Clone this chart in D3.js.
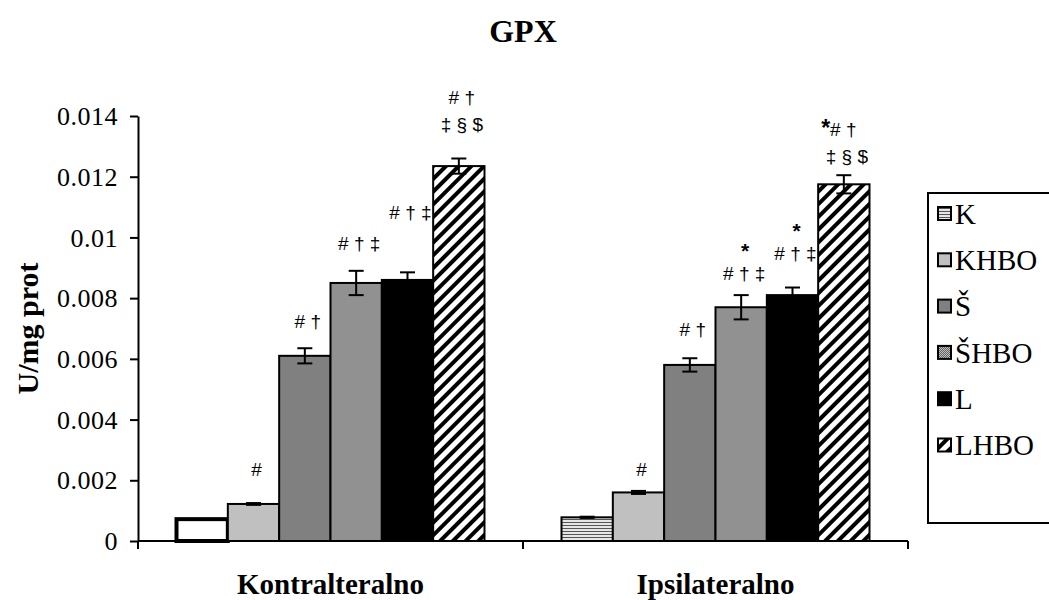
<!DOCTYPE html>
<html>
<head>
<meta charset="utf-8">
<script src="https://cdn.jsdelivr.net/npm/d3@7"></script>
<style>
  body { margin: 0; background: white; }
  svg { display: block; }
</style>
</head>
<body>
<div id="chart"></div>
<script>
const categories = ["Kontralteralno", "Ipsilateralno"];
const groups = ["K", "KHBO", "Š", "ŠHBO", "L", "LHBO"];

const kontraValues = [0.00072, 0.00122, 0.0061, 0.0085, 0.0086, 0.01235];
const kontraErrors = [0, 0.00003, 0.00025, 0.0004, 0.00025, 0.00025];
const ipsiValues = [0.00078, 0.0016, 0.0058, 0.0077, 0.0081, 0.01175];
const ipsiErrors = [0.00002, 0.00005, 0.00022, 0.0004, 0.00025, 0.0003];

// significance marks: text lines (top to bottom) and the value where the lowest line sits
const kontraMarks = [[], ["#"], ["# †"], ["# † ‡"], ["# † ‡"], ["# †", "‡ § $"]];
const kontraMarkAt = [0, 0.00214, 0.00702, 0.00958, 0.0106, 0.0135];
const ipsiMarks = [[], ["#"], ["# †"], ["*", "# † ‡"], ["*", "# † ‡"], ["*# †", "‡ § $"]];
const ipsiMarkAt = [0, 0.00214, 0.00675, 0.0086, 0.00926, 0.01245];

const yTicks = [0, 0.002, 0.004, 0.006, 0.008, 0.01, 0.012, 0.014];

const width = 1049, height = 600;
const margin = { left: 138, right: 141, top: 116, bottom: 59 };
const serif = "'Palatino Linotype', 'Book Antiqua', Palatino, 'Liberation Serif', serif";
const sans = "Arial, 'Liberation Sans', sans-serif";

const svg = d3.select("div#chart")
  .append("svg")
  .attr("width", width)
  .attr("height", height);

// fills
const defs = svg.append("defs");

const hlines = defs.append("pattern")
  .attr("id", "hlines")
  .attr("patternUnits", "userSpaceOnUse")
  .attr("width", 4).attr("height", 3);
hlines.append("rect").attr("width", 4).attr("height", 3).attr("fill", "#e6e6e6");
hlines.append("rect").attr("width", 4).attr("height", 1).attr("fill", "#555");

const checker = defs.append("pattern")
  .attr("id", "checker")
  .attr("patternUnits", "userSpaceOnUse")
  .attr("width", 2).attr("height", 2);
checker.append("rect").attr("width", 2).attr("height", 2).attr("fill", "#cccccc");
checker.append("rect").attr("width", 1).attr("height", 1).attr("fill", "#555");
checker.append("rect").attr("x", 1).attr("y", 1).attr("width", 1).attr("height", 1).attr("fill", "#555");

const diag = defs.append("pattern")
  .attr("id", "diag")
  .attr("patternUnits", "userSpaceOnUse")
  .attr("width", 9).attr("height", 9)
  .attr("patternTransform", "rotate(45)");
diag.append("rect").attr("width", 9).attr("height", 9).attr("fill", "white");
diag.append("rect").attr("width", 4).attr("height", 9).attr("fill", "black");

const fills = ["url(#hlines)", "#c0c0c0", "#808080", "url(#checker)", "black", "url(#diag)"];

// scales
const x0 = d3.scaleBand()
  .domain(categories)
  .range([margin.left, width - margin.right])
  .paddingInner(0.2)
  .paddingOuter(0.1);

const x1 = d3.scaleBand()
  .domain(groups)
  .range([0, x0.bandwidth()]);

const y = d3.scaleLinear()
  .domain([0, 0.014])
  .range([height - margin.bottom, margin.top]);

// title
svg.append("text")
  .attr("x", x0.range()[0] + (x0.range()[1] - x0.range()[0]) / 2)
  .attr("y", 42)
  .attr("text-anchor", "middle")
  .attr("font-family", serif)
  .attr("font-weight", "bold")
  .attr("font-size", 32)
  .text("GPX");

// y axis
const yAxis = svg.append("g")
  .attr("transform", `translate(${margin.left},0)`)
  .call(d3.axisLeft(y).tickValues(yTicks).tickFormat(d => d === 0 ? "0" : String(+d.toFixed(3))).tickSize(8).tickSizeOuter(0));
yAxis.select(".domain").attr("stroke-width", 2);
yAxis.selectAll(".tick line").attr("stroke-width", 2);
yAxis.selectAll("text")
  .attr("font-family", serif)
  .attr("font-size", 26)
  .attr("letter-spacing", 0.5)
  .attr("fill", "black")
  .attr("dx", -9)
  .attr("dy", "0.33em");

svg.append("text")
  .attr("transform", `translate(38,${y(0.007)}) rotate(-90)`)
  .attr("text-anchor", "middle")
  .attr("font-family", serif)
  .attr("font-weight", "bold")
  .attr("font-size", 30)
  .text("U/mg prot");

// bars
const series = [
  { cat: categories[0], values: kontraValues, errors: kontraErrors, marks: kontraMarks, at: kontraMarkAt },
  { cat: categories[1], values: ipsiValues, errors: ipsiErrors, marks: ipsiMarks, at: ipsiMarkAt }
];

series.forEach(s => {
  const g = svg.append("g").attr("transform", `translate(${x0(s.cat)},0)`);
  const rows = groups.map((name, i) => ({ name, i, v: s.values[i], e: s.errors[i], marks: s.marks[i], at: s.at[i] }));
  const hollow = d => s.cat === categories[0] && d.i === 0;

  g.selectAll("rect.bar")
    .data(rows)
    .enter()
    .append("rect")
    .attr("class", "bar")
    .attr("x", d => x1(d.name))
    .attr("y", d => y(d.v))
    .attr("width", x1.bandwidth())
    .attr("height", d => y(0) - y(d.v))
    // the first contralateral bar prints as an empty box with a heavy outline
    .attr("fill", d => hollow(d) ? "white" : fills[d.i])
    .attr("stroke", "black")
    .attr("stroke-width", d => hollow(d) ? 4 : 2);

  const cx = d => x1(d.name) + x1.bandwidth() / 2;
  const err = g.selectAll("g.err")
    .data(rows.filter(d => d.e > 0))
    .enter()
    .append("g")
    .attr("class", "err");
  err.append("line")
    .attr("x1", cx).attr("x2", cx)
    .attr("y1", d => y(d.v - d.e)).attr("y2", d => y(d.v + d.e));
  err.append("line")
    .attr("x1", d => cx(d) - 7.5).attr("x2", d => cx(d) + 7.5)
    .attr("y1", d => y(d.v + d.e)).attr("y2", d => y(d.v + d.e));
  err.append("line")
    .attr("x1", d => cx(d) - 7.5).attr("x2", d => cx(d) + 7.5)
    .attr("y1", d => y(d.v - d.e)).attr("y2", d => y(d.v - d.e));
  err.selectAll("line")
    .attr("stroke", "black")
    .attr("stroke-width", 2);

  // one text per bar, one tspan per line; a leading "*" is set bold and larger
  rows.filter(d => d.marks.length).forEach(d => {
    const n = d.marks.length;
    const t = g.append("text")
      .attr("text-anchor", "middle")
      .attr("font-family", sans)
      .attr("font-size", 19)
      .attr("xml:space", "preserve");
    d.marks.forEach((line, k) => {
      const star = line === "*";
      const ly = y(d.at) - (n - 1 - k) * (star ? 22 : 27);
      const lx = cx(d) + (star ? 4 : 3);
      if (line.startsWith("*")) {
        const head = t.append("tspan")
          .attr("x", lx).attr("y", ly)
          .attr("font-size", star ? 21 : 23)
          .attr("font-weight", "bold")
          .text("*");
        if (line.length > 1) {
          head.attr("x", lx - 8);
          t.append("tspan").text(line.slice(1));
        }
      } else {
        t.append("tspan")
          .attr("x", lx).attr("y", ly)
          .text(line);
      }
    });
  });
});

// x axis
const base = y(0);
const bounds = [x0.range()[0], x0(categories[1]) - x0.step() * x0.paddingInner() / 2, x0.range()[1]];
svg.append("line")
  .attr("x1", bounds[0]).attr("x2", bounds[2])
  .attr("y1", base).attr("y2", base)
  .attr("stroke", "black").attr("stroke-width", 2);
svg.selectAll("line.xtick")
  .data(bounds)
  .enter()
  .append("line")
  .attr("class", "xtick")
  .attr("x1", d => d).attr("x2", d => d)
  .attr("y1", base).attr("y2", base + 8)
  .attr("stroke", "black").attr("stroke-width", 2);

svg.selectAll("text.cat")
  .data(categories)
  .enter()
  .append("text")
  .attr("class", "cat")
  .attr("x", d => x0(d) + x0.bandwidth() / 2)
  .attr("y", 594)
  .attr("text-anchor", "middle")
  .attr("font-family", serif)
  .attr("font-weight", "bold")
  .attr("font-size", 29)
  .text(d => d);

// legend
const legend = svg.append("g").attr("transform", "translate(928,193)");
legend.append("rect")
  .attr("width", 140).attr("height", 330)
  .attr("fill", "white").attr("stroke", "black").attr("stroke-width", 2);
const item = legend.selectAll("g.item")
  .data(groups)
  .enter()
  .append("g")
  .attr("class", "item")
  .attr("transform", (d, i) => `translate(10,${21 + i * 46.3})`);
item.append("rect")
  .attr("x", 0).attr("y", -7)
  .attr("width", 13).attr("height", 13)
  .attr("fill", (d, i) => fills[i])
  .attr("stroke", "black").attr("stroke-width", 2);
item.append("text")
  .attr("x", 17)
  .attr("dy", "0.34em")
  .attr("font-family", serif)
  .attr("font-size", 29)
  .text(d => d);
</script>
</body>
</html>
